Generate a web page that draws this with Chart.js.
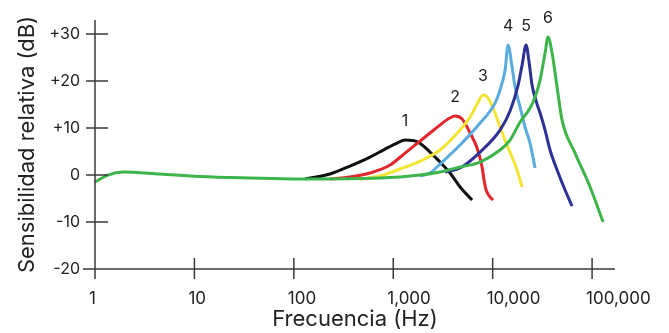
<!DOCTYPE html>
<html>
<head>
<meta charset="utf-8">
<script src="https://cdn.jsdelivr.net/npm/chart.js@4.4.1/dist/chart.umd.min.js"></script>
<style>
  html, body { margin: 0; padding: 0; background: #fff; }
  #wrap { width: 669px; height: 333px; position: relative; }
</style>
</head>
<body>
<div id="wrap"><canvas id="grafico"></canvas></div>
<script>
// Curvas de respuesta (frecuencia en Hz, sensibilidad en dB)
const hz1 = [130, 231, 367, 584, 827, 1092, 1315, 1776, 2345, 2955, 3725, 4700, 6210];
const db1 = [-0.85, 0.21, 1.91, 3.83, 5.53, 6.81, 7.45, 7.02, 4.89, 2.77, 0.43, -2.55, -5.32];

const hz2 = [231, 367, 584, 929, 1315, 1860, 2634, 3560, 4185, 4925, 5930, 6970, 7820, 8190, 8590, 9420, 10090];
const db2 = [-0.85, -0.43, 0.43, 2.13, 4.68, 7.23, 9.79, 11.91, 12.55, 11.91, 8.94, 5.74, 1.70, -1.06, -3.19, -4.68, -5.32];

const hz3 = [464, 737, 1170, 1860, 2955, 4700, 5930, 6970, 8000, 8990, 10570, 11860, 13640, 15670, 17580, 19770];
const db3 = [-0.85, -0.21, 1.28, 2.98, 5.32, 9.57, 12.34, 15.1, 17.02, 16.38, 13.19, 10.21, 6.81, 3.83, 1.06, -2.55];

const hz4 = [1860, 2345, 2955, 4700, 7470, 10570, 11860, 13330, 14290, 15670, 16790, 18880, 21180, 23770, 26710];
const db4 = [-0.21, 0.43, 2.34, 6.38, 11.06, 15.32, 18.09, 22.34, 27.66, 22.98, 18.72, 14.47, 10.21, 6.81, 1.49];

const hz5 = [3320, 4700, 7470, 11860, 14960, 18030, 19770, 21680, 23230, 24890, 27350, 29990, 33650, 37760, 44460, 53460, 62910];
const db5 = [0.64, 1.49, 4.89, 9.57, 13.62, 19.15, 23.4, 27.66, 24.04, 19.15, 15.74, 13.19, 9.57, 5.32, 1.06, -3.19, -6.6];

const hz6 = [1, 1.35, 1.91, 4.5, 11.4, 36, 115, 737, 1860, 2955, 4700, 7470, 11860, 14960, 18880, 23770, 26710, 29990, 33650, 36060, 39600, 44460, 49890, 67420, 95500, 129100];
const db6 = [-1.49, 0, 0.64, 0.21, -0.32, -0.64, -0.85, -0.64, 0, 0.64, 1.70, 2.77, 5.32, 7.45, 11.28, 14.26, 16.6, 20.2, 25.96, 29.36, 25.96, 18.7, 11.7, 4.68, -2.55, -10];

const etiquetas = ['1', '2', '3', '4', '5', '6'];
const xTicks = [1, 10, 100, 1000, 10000, 100000];
const yTicks = [-20, -10, 0, 10, 20, 30];

const colores = ['#111111', '#e3262b', '#f4e434', '#5aacdf', '#2c3193', '#3db54a'];
const series = [[hz1, db1], [hz2, db2], [hz3, db3], [hz4, db4], [hz5, db5], [hz6, db6]];

const FUENTE = 'Inter, "Open Sans", sans-serif';
const TINTA = '#222222';

// ejes dibujados a mano: las marcas cruzan la línea del eje
const ejesPlugin = {
    id: 'ejes',
    afterDatasetsDraw(chart) {
        const ctx = chart.ctx;
        const area = chart.chartArea;
        const sx = chart.scales.x;
        const sy = chart.scales.y;
        ctx.save();
        ctx.strokeStyle = '#3a3a3a';
        ctx.lineWidth = 1.5;
        ctx.beginPath();
        ctx.moveTo(area.left, area.top);
        ctx.lineTo(area.left, area.bottom + 8);
        ctx.moveTo(area.left - 12, area.bottom);
        ctx.lineTo(area.right, area.bottom);
        yTicks.forEach(v => {
            const py = sy.getPixelForValue(v);
            ctx.moveTo(area.left - 9, py);
            ctx.lineTo(area.left + 13, py);
        });
        xTicks.forEach(v => {
            const px = sx.getPixelForValue(v);
            ctx.moveTo(px, area.bottom - 11);
            ctx.lineTo(px, area.bottom + 10);
        });
        ctx.stroke();

        // números sobre cada pico
        ctx.fillStyle = TINTA;
        ctx.font = '16px ' + FUENTE;
        ctx.textAlign = 'center';
        ctx.textBaseline = 'middle';
        chart.data.datasets.forEach((ds, i) => {
            const meta = chart.getDatasetMeta(i);
            let pico = meta.data[0];
            meta.data.forEach(p => { if (p.y < pico.y) pico = p; });
            ctx.fillText(etiquetas[i], pico.x, pico.y - 19);
        });
        ctx.restore();
    }
};

new Chart(document.getElementById('grafico'), {
    type: 'line',
    data: {
        datasets: series.map((s, i) => ({
            label: etiquetas[i],
            data: s[0].map((f, j) => ({ x: f, y: s[1][j] })),
            borderColor: colores[i],
            borderWidth: 3,
            pointRadius: 0,
            fill: false,
            cubicInterpolationMode: 'monotone',
            order: 5 - i
        }))
    },
    options: {
        responsive: true,
        maintainAspectRatio: false,
        animation: false,
        layout: { autoPadding: false, padding: { top: 20, right: 54, left: 0, bottom: 0 } },
        plugins: { legend: { display: false }, tooltip: { enabled: false } },
        scales: {
            x: {
                type: 'logarithmic',
                min: 1,
                max: 170000,
                afterBuildTicks: s => { s.ticks = xTicks.map(v => ({ value: v })); },
                afterFit: s => {
                    s.height = 64;
                    s.paddingLeft = 0;
                    s.paddingRight = 0;
                },
                grid: { display: false, drawTicks: false },
                border: { display: false },
                ticks: {
                    autoSkip: false,
                    maxRotation: 0,
                    align: 'start',
                    labelOffset: -6,
                    padding: 20,
                    color: TINTA,
                    font: { family: FUENTE, size: 17 },
                    callback: v => Number(v).toLocaleString('en-US')
                },
                title: {
                    display: true,
                    text: 'Frecuencia (Hz)',
                    color: TINTA,
                    padding: 0,
                    font: { family: FUENTE, size: 22 }
                }
            },
            y: {
                min: -20,
                max: 33,
                afterBuildTicks: s => { s.ticks = yTicks.map(v => ({ value: v })); },
                afterFit: s => {
                    s.width = 95;
                    s.paddingTop = 0;
                    s.paddingBottom = 0;
                },
                grid: { display: false, drawTicks: false },
                border: { display: false },
                ticks: {
                    padding: 15,
                    color: TINTA,
                    font: { family: FUENTE, size: 16 },
                    callback: v => v > 0 ? '+' + v : String(v)
                },
                title: {
                    display: true,
                    text: 'Sensibilidad relativa (dB)',
                    color: TINTA,
                    padding: { top: 14, bottom: 0 },
                    font: { family: FUENTE, size: 22 }
                }
            }
        }
    },
    plugins: [ejesPlugin]
});
</script>
</body>
</html>
